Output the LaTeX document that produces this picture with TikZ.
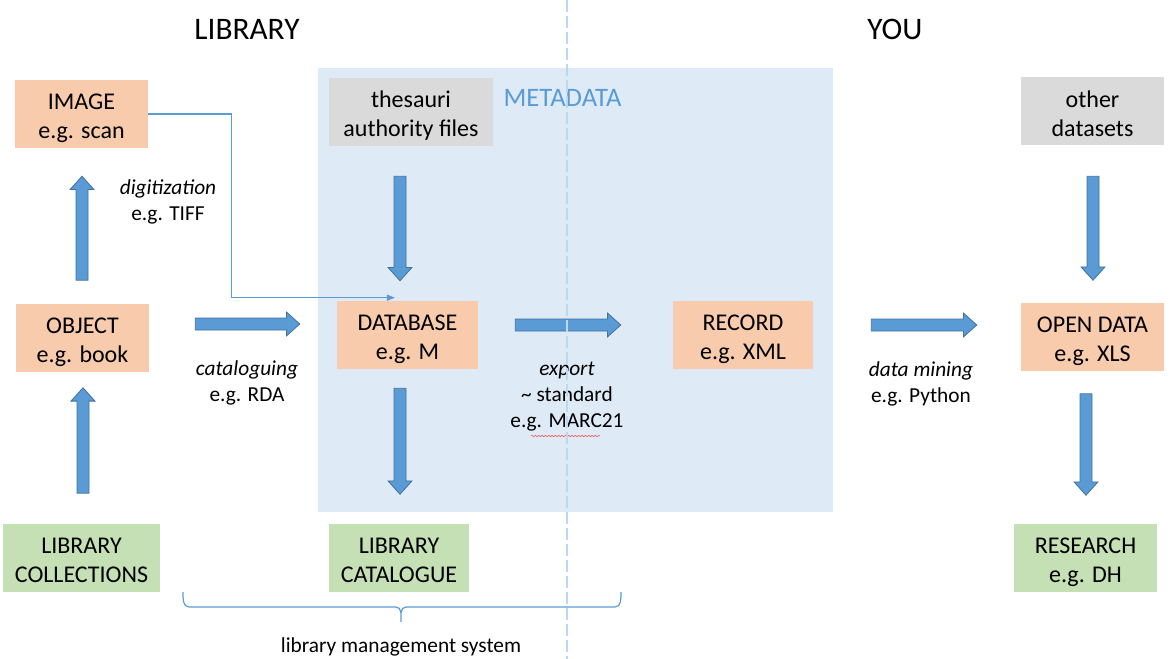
\documentclass[tikz,border=0pt]{standalone}
\usepackage{fontspec}
\setmainfont{Carlito}
\usepackage{tikz}
\usetikzlibrary{arrows.meta,calc,decorations.pathmorphing}

\definecolor{peach}{HTML}{F8CBAD}
\definecolor{leaf}{HTML}{C5E0B4}
\definecolor{greybox}{HTML}{DADADA}
\definecolor{metabg}{HTML}{DEEBF7}
\definecolor{arrfill}{HTML}{5B9BD5}
\definecolor{arrline}{HTML}{41719C}
\definecolor{sepline}{HTML}{BDD7EE}

% block arrow between two points
\newcommand{\barrow}[2]{%
  \path #1 coordinate (ba-s) #2 coordinate (ba-e);
  \coordinate (ba-h) at ($(ba-e)!10pt!(ba-s)$);
  \filldraw[fill=arrfill,draw=arrline,line width=0.6pt,line join=miter]
    ($(ba-s)!4.5pt!90:(ba-e)$) -- ($(ba-h)!4.5pt!90:(ba-e)$) -- ($(ba-h)!9pt!90:(ba-e)$)
    -- (ba-e) -- ($(ba-h)!9pt!-90:(ba-e)$) -- ($(ba-h)!4.5pt!-90:(ba-e)$)
    -- ($(ba-s)!4.5pt!-90:(ba-e)$) -- cycle;}

\begin{document}
\begin{tikzpicture}[x=0.75pt,y=-0.75pt,
  box/.style={minimum height=51pt,inner sep=0pt,align=center,text height=37pt,text depth=0pt,
    font=\fontsize{18}{21.75}\selectfont},
  step1/.style={box,fill=peach},
  src/.style={box,fill=greybox},
  goal/.style={box,fill=leaf},
  lbl/.style={align=center,font=\fontsize{16}{19.5}\selectfont},
  ttl/.style={font=\fontsize{23.5}{28}\selectfont},
  lnk/.style={draw=arrfill,line width=0.9pt,-{Triangle[length=6pt,width=4.5pt]}}]
  \useasboundingbox (0,0) rectangle (1176,659);
  \fill[metabg] (318,68) rectangle (833,512);
  \node[font=\fontsize{20}{24}\selectfont,text=arrfill] (meta) at (562.5,98) {METADATA};
  \node[ttl] (lib) at (247,29) {LIBRARY};
  \node[ttl] (you) at (895,29) {YOU};

  \node[step1,minimum width=99.75pt] (img) at (81.5,114) {IMAGE\\e.g. scan};
  \node[step1,minimum width=99.75pt] (obj) at (82.5,337.5) {OBJECT\\e.g. book};
  \node[goal,minimum width=117.75pt] (col) at (81.5,557.5) {LIBRARY\\COLLECTIONS};
  \node[src,minimum width=123pt] (thes) at (411,112) {thesauri\\authority files};
  \node[step1,minimum width=105.75pt] (db) at (407.5,335) {DATABASE\\e.g. M};
  \node[step1,minimum width=105pt] (rec) at (743,335) {RECORD\\e.g. XML};
  \node[goal,minimum width=105pt] (cat) at (399,557.5) {LIBRARY\\CATALOGUE};
  \node[src,minimum width=107.25pt] (oth) at (1092.5,111.5) {other\\datasets};
  \node[step1,minimum width=107.25pt] (opd) at (1092.5,336.5) {OPEN DATA\\e.g. XLS};
  \node[goal,minimum width=107.25pt] (res) at (1085.5,557.5) {RESEARCH\\e.g. DH};

  \barrow{($(col.north)+(1.5,-30)$)}{($(obj.south)+(0.5,16)$)}
  \barrow{($(obj.north)+(-0.5,-23)$)}{($(img.south)+(0.5,28)$)}
  \barrow{($(obj.east)+(46,-13.5)$)}{($(db.west)+(-37,-11)$)}
  \barrow{($(thes.south)+(-11,30)$)}{($(db.north)+(-7.5,-20)$)}
  \barrow{($(db.south)+(-7.5,19)$)}{($(cat.north)+(1,-29)$)}
  \barrow{($(db.east)+(37,-10)$)}{($(rec.west)+(-52,-10)$)}
  \barrow{($(rec.east)+(58,-10)$)}{($(opd.west)+(-44,-11.5)$)}
  \barrow{($(oth.south)+(0.5,30.5)$)}{($(opd.north)+(0.5,-22)$)}
  \barrow{($(opd.south)+(-6.5,23)$)}{($(res.north)+(0.5,-28)$)}

  \draw[lnk] (img.east) -- ++(83,0) |- ([xshift=-9.4pt,yshift=2.25pt]db.north);

  \node[lbl] (dig) at (168,201.5) {\textit{digitization}\\e.g. TIFF};
  \node[lbl] (catl) at (247,383) {\textit{cataloguing}\\e.g. RDA};
  \node[lbl] (exp) at (567,397) {\textit{export}\\\textasciitilde{} standard\\e.g. MARC21};
  \node[lbl] (mine) at (921,384) {\textit{data mining}\\e.g. Python};
  \draw[red!70,line width=0.4pt,decorate,decoration={snake,amplitude=0.5pt,segment length=2.5pt}]
    (531,436) -- (600,436);

  % brace under the library system
  \draw[arrfill,line width=0.9pt] (183,592) to[out=-90,in=180] (189,607) -- (396,607)
    to[out=0,in=90] (401,622) to[out=90,in=180] (406,607) -- (615,607) to[out=0,in=-90] (621,592);
  \node[lbl] (lms) at (401,647) {library management system};

  \draw[sepline,line width=0.8pt,dash pattern=on 9pt off 3pt] (567,0) -- (567,659);
\end{tikzpicture}
\end{document}
